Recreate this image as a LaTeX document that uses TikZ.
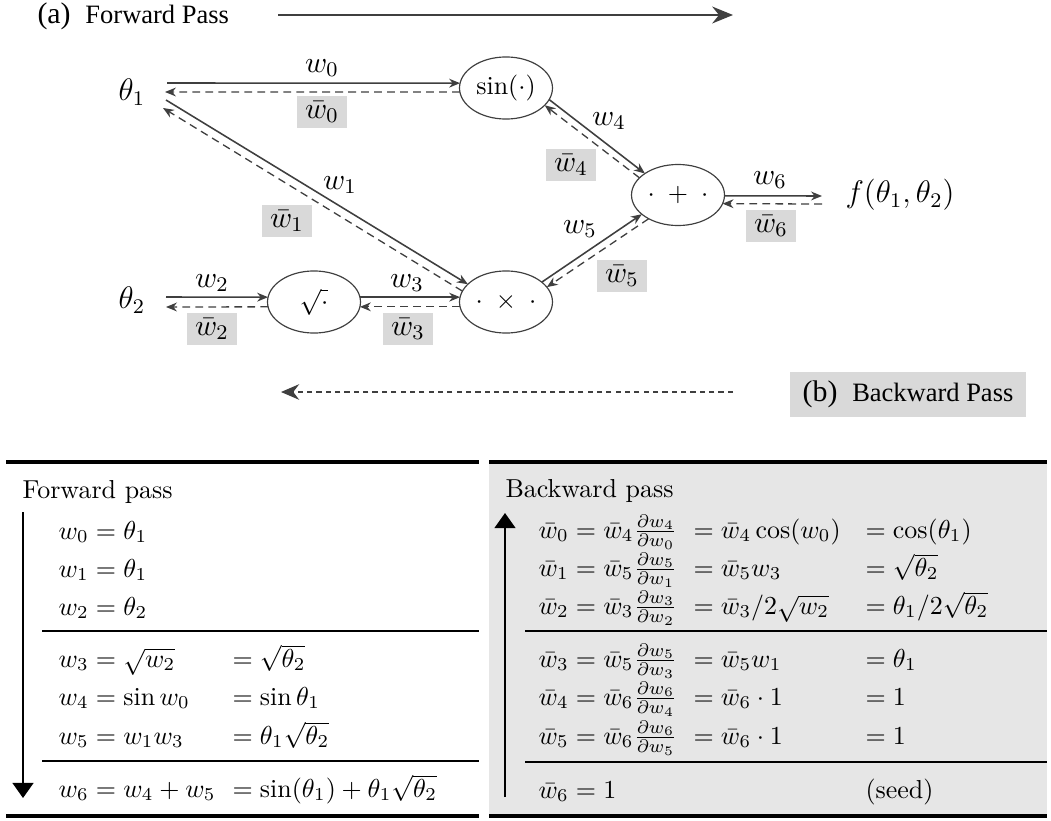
\RequirePackage{fix-cm}
\documentclass[tikz,border=0pt]{standalone}
\usepackage{amsmath}
\usepackage{fontspec}
\newfontfamily\capfont{Liberation Serif}
\usetikzlibrary{arrows.meta,shapes.geometric}
\definecolor{ink}{HTML}{3F3F3F}
\definecolor{lblbg}{HTML}{D9D9D9}
\definecolor{tabbg}{HTML}{E6E6E6}
\tikzset{
 op/.style={ellipse, draw=ink, line width=0.45pt, minimum width=35.8pt, minimum height=23.9pt, inner sep=0pt, outer sep=0pt, font=\fontsize{10}{12}\selectfont},
 var/.style={inner sep=0pt, font=\fontsize{12}{14}\selectfont},
 wlab/.style={inner sep=0pt, font=\fontsize{11.5}{14}\selectfont},
 wbar/.style={fill=lblbg, minimum width=19.3pt, minimum height=12.7pt, inner sep=0pt, font=\fontsize{11.5}{14}\selectfont},
 fwd/.style={draw=ink, line width=0.6pt, -{Stealth[length=4.2pt,width=3.4pt]}},
 bwd/.style={draw=ink, line width=0.5pt, dash pattern=on 3pt off 2pt, -{Stealth[length=4.2pt,width=3.4pt]}},
 cell/.style={anchor=base west, inner sep=0pt, font=\fontsize{10}{12}\selectfont},
 caplbl/.style={inner sep=0pt, font=\capfont\fontsize{10.2}{12}\selectfont},
 thickrule/.style={line width=1.5pt},
 thinrule/.style={line width=0.4pt},
 tabarrow/.style={line width=0.8pt, -{Triangle[length=5.8pt,width=8pt]}},
}
\begin{document}
\begin{tikzpicture}[x=0.385pt,y=-0.385pt]
\useasboundingbox (0,0) rectangle (1051,821);

% ---- pass labels ----
\node[caplbl, anchor=base west] (fp) at (37,23) {{\fontsize{11.5}{13}\selectfont (a)}\hspace{5.7pt}Forward Pass};
\coordinate (fs) at (278,15);
\coordinate (fe) at (733,15);
\draw[ink, line width=0.75pt, -{Stealth[length=8pt,width=6.5pt]}] (fs) -- (fe);

\node[caplbl, fill=lblbg, minimum width=91.2pt, minimum height=17.3pt] (bp) at (908,394.5) {{\fontsize{11.5}{13}\selectfont (b)}\hspace{5.7pt}Backward Pass};
\coordinate (bs) at (733,392);
\coordinate (be) at (281,392);
\draw[ink, line width=0.6pt, dash pattern=on 2pt off 1.6pt, -{Stealth[length=7pt,width=6pt]}] (bs) -- (be);

% ---- graph nodes ----
\node[var] (t1) at (132,92) {$\theta_1$};
\node[op] (sin) at (506,88) {$\sin(\cdot)$};
\node[op, minimum height=23.5pt] (plus) at (678,195) {$\cdot\;+\;\cdot$};
\node[var] (f) at (900,195) {$f(\theta_1,\theta_2)$};
\node[var] (t2) at (132,300) {$\theta_2$};
\node[op] (sq) at (314,302) {$\sqrt{\cdot}$};
\node[op] (mul) at (506,302) {$\cdot\;\times\;\cdot$};

% ---- edges ----
\draw[fwd] ([shift={(35,-9)}]t1.center) -- (sin.174);
\draw[bwd] (sin.185) -- ([shift={(33,0)}]t1.center);
\draw[fwd] ([shift={(34,8)}]t1.center) -- (mul.155);
\draw[bwd] (mul.166) -- ([shift={(31,16)}]t1.center);
\draw[fwd] ([shift={(34,-3)}]t2.center) -- (sq.174);
\draw[bwd] (sq.186) -- ([shift={(34,7)}]t2.center);
\draw[fwd] (sq.6) -- (mul.174);
\draw[bwd] (mul.186) -- (sq.-6);
\draw[fwd] (sin.-15) -- (plus.147);
\draw[bwd] (plus.156) -- (sin.-24);
\draw[fwd] (mul.29) -- (plus.208);
\draw[bwd] (plus.219) -- (mul.20);
\draw[fwd] (plus.-1) -- ([shift={(-78,1)}]f.center);
\draw[bwd] ([shift={(-78,9)}]f.center) -- (plus.-11);

% ---- edge labels ----
\node[wlab] (lw0) at (322,68) {$w_0$};
\node[wbar] (lb0) at (322,112) {$\bar w_0$};
\node[wlab] (lw1) at (340,185) {$w_1$};
\node[wbar] (lb1) at (287,221) {$\bar w_1$};
\node[wlab] (lw2) at (212,283) {$w_2$};
\node[wbar] (lb2) at (212,329) {$\bar w_2$};
\node[wlab] (lw3) at (407,283) {$w_3$};
\node[wbar] (lb3) at (408,329) {$\bar w_3$};
\node[wlab] (lw4) at (609,121) {$w_4$};
\node[wbar] (lb4) at (571,165) {$\bar w_4$};
\node[wlab] (lw5) at (580,229) {$w_5$};
\node[wbar] (lb5) at (622,276) {$\bar w_5$};
\node[wlab] (lw6) at (770,180) {$w_6$};
\node[wbar] (lb6) at (771,226) {$\bar w_6$};

% ---- forward table ----
\draw[thickrule] (6,462) -- (479,462);
\draw[thickrule] (6,816) -- (479,816);
\draw[thinrule] (42,631) -- (479,631);
\draw[thinrule] (42,761) -- (479,761);
\node[cell] (fh) at (22,498) {Forward pass};
\coordinate (fa0) at (23,512);
\coordinate (fa1) at (23,798);
\draw[tabarrow] (fa0) -- (fa1);
\node[cell] (f0) at (58,539) {$w_0 = \theta_1$};
\node[cell] (f1) at (58,577) {$w_1 = \theta_1$};
\node[cell] (f2) at (58,615) {$w_2 = \theta_2$};
\node[cell] (f3) at (58,667) {$w_3 = \sqrt{w_2}$};
\node[cell] (f3b) at (232,667) {$= \sqrt{\theta_2}$};
\node[cell] (f4) at (58,705) {$w_4 = \sin w_0$};
\node[cell] (f4b) at (232,705) {$= \sin\theta_1$};
\node[cell] (f5) at (58,744) {$w_5 = w_1 w_3$};
\node[cell] (f5b) at (232,744) {$= \theta_1\sqrt{\theta_2}$};
\node[cell] (f6) at (58,797) {$w_6 = w_4 + w_5$};
\node[cell] (f6b) at (232,797) {$= \sin(\theta_1) + \theta_1\sqrt{\theta_2}$};

% ---- backward table ----
\fill[tabbg] (489,462) rectangle (1047,816);
\draw[thickrule] (489,462) -- (1047,462);
\draw[thickrule] (489,816) -- (1047,816);
\draw[thinrule] (525,631) -- (1047,631);
\draw[thinrule] (525,762) -- (1047,762);
\node[cell] (bh) at (505,497) {Backward pass};
\coordinate (ba0) at (505,797);
\coordinate (ba1) at (505,513);
\draw[tabarrow] (ba0) -- (ba1);
\node[cell] (b0) at (538,538) {$\bar w_0 = \bar w_4\frac{\partial w_4}{\partial w_0}$};
\node[cell] (b0b) at (693,538) {$= \bar w_4\cos(w_0)$};
\node[cell] (b0c) at (865,538) {$= \cos(\theta_1)$};
\node[cell] (b1) at (538,576) {$\bar w_1 = \bar w_5\frac{\partial w_5}{\partial w_1}$};
\node[cell] (b1b) at (693,576) {$= \bar w_5 w_3$};
\node[cell] (b1c) at (865,576) {$= \sqrt{\theta_2}$};
\node[cell] (b2) at (538,614) {$\bar w_2 = \bar w_3\frac{\partial w_3}{\partial w_2}$};
\node[cell] (b2b) at (693,614) {$= \bar w_3/2\sqrt{w_2}$};
\node[cell] (b2c) at (865,614) {$= \theta_1/2\sqrt{\theta_2}$};
\node[cell] (b3) at (538,667) {$\bar w_3 = \bar w_5\frac{\partial w_5}{\partial w_3}$};
\node[cell] (b3b) at (693,667) {$= \bar w_5 w_1$};
\node[cell] (b3c) at (865,667) {$= \theta_1$};
\node[cell] (b4) at (538,705) {$\bar w_4 = \bar w_6\frac{\partial w_6}{\partial w_4}$};
\node[cell] (b4b) at (693,705) {$= \bar w_6\cdot 1$};
\node[cell] (b4c) at (865,705) {$= 1$};
\node[cell] (b5) at (538,744) {$\bar w_5 = \bar w_6\frac{\partial w_6}{\partial w_5}$};
\node[cell] (b5b) at (693,744) {$= \bar w_6\cdot 1$};
\node[cell] (b5c) at (865,744) {$= 1$};
\node[cell] (b6) at (538,798) {$\bar w_6 = 1$};
\node[cell] (b6c) at (865,798) {(seed)};
\end{tikzpicture}
\end{document}
